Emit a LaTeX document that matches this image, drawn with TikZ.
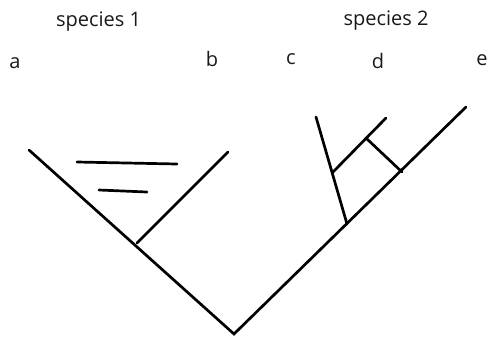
\documentclass[tikz,border=0pt]{standalone}
\usepackage{fontspec}
\setmainfont{Open Sans}
\begin{document}
\begin{tikzpicture}[x=1pt,y=-1pt,
  branch/.style={line width=2.7pt, line cap=round},
  lbl/.style={anchor=base, inner sep=0pt, font=\fontsize{20}{24}\selectfont, text=black!90}]
\useasboundingbox (0,0) rectangle (489,341);
% labels
\node[lbl] (sp1) at (98.5,26) {species 1};
\node[lbl] (sp2) at (386,25) {species 2};
\node[lbl] (la) at (15,68) {a};
\node[lbl] (lb) at (212,66) {b};
\node[lbl] (lc) at (291,64) {c};
\node[lbl] (ld) at (378,68) {d};
\node[lbl] (le) at (482,65) {e};
% tree coordinates
\coordinate (root) at (234,334);
\coordinate (a) at (29,150);
\coordinate (b) at (228,152);
\coordinate (n1) at (137,243);
\coordinate (e) at (466,107);
\coordinate (n2) at (347,224);
\coordinate (n3) at (402,172);
\coordinate (c) at (316,117);
\coordinate (n4) at (333,172);
\coordinate (d) at (386,118);
\coordinate (n5) at (367,139);
\coordinate (h1s) at (77,162);
\coordinate (h1e) at (177,164);
\coordinate (h2s) at (99,190);
\coordinate (h2e) at (147,192);
% branches
\draw[branch] (a) -- (root) -- (e);
\draw[branch] (b) -- (n1);
\draw[branch] (c) -- (n2);
\draw[branch] (n4) -- (d);
\draw[branch] (n5) -- (n3);
\draw[branch] (h1s) -- (h1e);
\draw[branch] (h2s) -- (h2e);
\end{tikzpicture}
\end{document}
